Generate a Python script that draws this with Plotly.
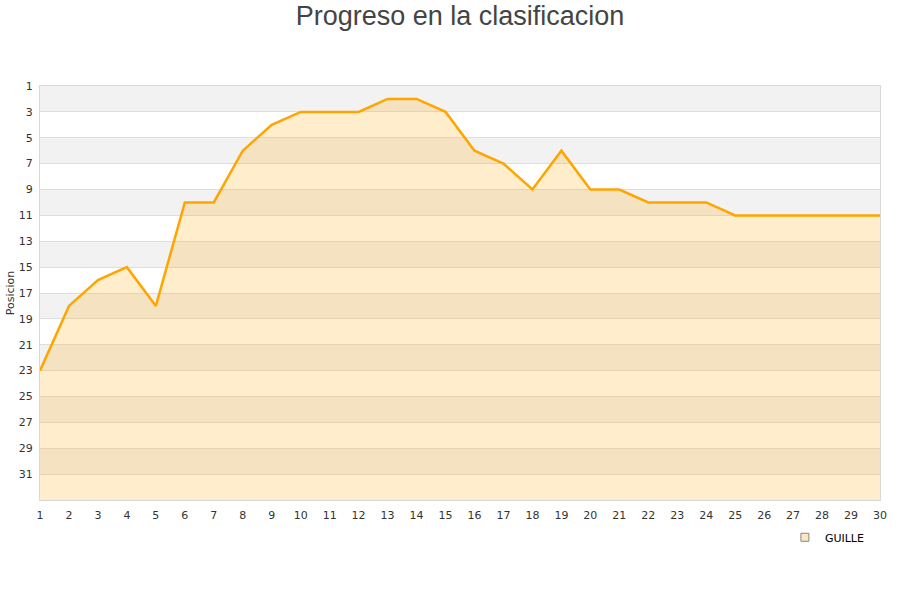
import plotly.graph_objects as go

jornadas = list(range(1, 31))
posicion = [23, 18, 16, 15, 18, 10, 10, 6, 4, 3, 3, 3, 2, 2, 3, 6, 7, 9, 6, 9,
            9, 10, 10, 10, 11, 11, 11, 11, 11, 11]
y_ticks = list(range(1, 32, 2))
team = "GUILLE"

fig = go.Figure()
fig.add_trace(go.Scatter(
    x=jornadas, y=[33] * len(jornadas), mode="lines",
    line=dict(width=0), showlegend=False, hoverinfo="skip"))
fig.add_trace(go.Scatter(
    x=jornadas, y=posicion, mode="lines", name=team,
    line=dict(color="#ffa500", width=2.5),
    fill="tonexty", fillcolor="rgba(255,165,0,0.2)", showlegend=False))
fig.add_trace(go.Scatter(
    x=[None], y=[None], mode="markers", name=team,
    marker=dict(symbol="square", size=8, color="#fde6c0",
                line=dict(color="#888", width=1))))

shapes = []
for i, t in enumerate(y_ticks[:-1]):
    if i % 2 == 0:
        shapes.append(dict(type="rect", xref="paper", x0=0, x1=1, yref="y",
                           y0=t, y1=t + 2, fillcolor="#f2f2f2",
                           line=dict(width=0), layer="below"))

fig.update_layout(
    width=900, height=600,
    margin=dict(l=40, r=20, t=86, b=100, autoexpand=False),
    paper_bgcolor="white", plot_bgcolor="white",
    title=dict(text="Progreso en la clasificacion", x=0.5, xanchor="center",
               xref="paper", y=0.974, yanchor="middle",
               font=dict(family="Liberation Sans, Arial", size=27, color="#444")),
    font=dict(family="DejaVu Sans", size=11, color="#444"),
    shapes=shapes,
    showlegend=True,
    legend=dict(x=0.988, xanchor="right", y=-0.055, yanchor="top",
                font=dict(size=11, color="#000"), bgcolor="rgba(0,0,0,0)"),
    hovermode=False,
)
fig.update_xaxes(range=[1, 30], tickvals=jornadas, showgrid=False,
                 showline=True, linecolor="#d8d8d8", linewidth=1, mirror=True,
                 ticks="", zeroline=False, automargin=False,
                 ticklabelstandoff=5,
                 tickfont=dict(size=11, color="#333"))
fig.update_yaxes(range=[33, 1], tickvals=y_ticks, showgrid=True,
                 gridcolor="#dedede", gridwidth=1,
                 showline=True, linecolor="#d8d8d8", linewidth=1, mirror=True,
                 ticks="", zeroline=False, automargin=False,
                 ticklabelstandoff=4,
                 tickfont=dict(size=11, color="#333"),
                 title=dict(text="Posicion", font=dict(size=11, color="#333"),
                            standoff=1))

fig.write_html("out.html", config={"displayModeBar": False},
               post_script="document.body.style.margin='0';")
